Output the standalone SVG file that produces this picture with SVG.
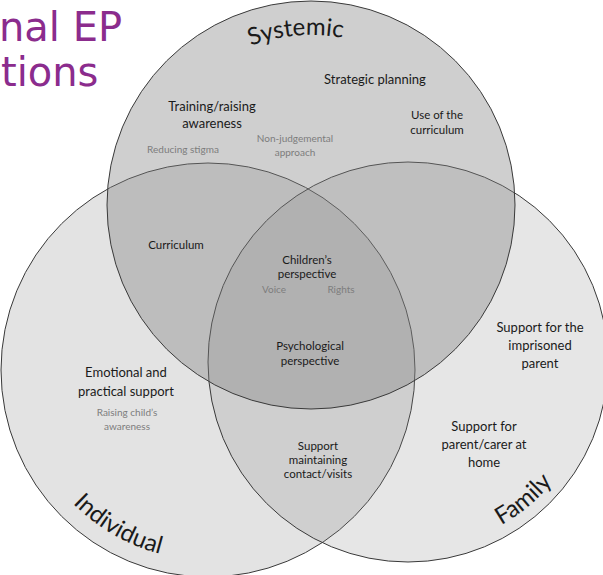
<svg xmlns="http://www.w3.org/2000/svg" width="603" height="575" viewBox="0 0 603 575">
<style>
.c{fill:#808080;stroke:#3a3a3a;stroke-width:1}
.t{font-family:Lato,"Open Sans","Liberation Sans",sans-serif;fill:#1a1a1a;text-anchor:middle}
.m{font-size:13px}
.s{font-size:11.5px}
.g{font-family:Lato,"Open Sans","Liberation Sans",sans-serif;fill:#7d7d7d;text-anchor:middle;font-size:10px}
.big{font-family:Lato,"Open Sans","Liberation Sans",sans-serif;fill:#1a1a1a;font-size:24px}
.title{font-family:"DejaVu Sans",Verdana,sans-serif;fill:#8b2c8d;font-size:40px}
</style>
<defs>
<path id="pS" d="M156.9,133.2 A170,170 0 0 1 450.3,107.5"/>
<path id="pI" d="M18,370 A190,190 0 0 0 303,534.5"/>
<path id="pF" d="M314,524.8 A188,188 0 0 0 584.7,297.7"/>
</defs>
<rect width="603" height="575" fill="#fff"/>
<g id="title">
<text class="title" x="-1" y="41">nal EP</text>
<text class="title" x="1" y="86">tions</text>
</g>
<g id="individual-circle"><circle class="c" cx="208" cy="370" r="207" fill-opacity="0.22"/></g>
<g id="family-circle"><circle class="c" cx="408" cy="362" r="200" fill-opacity="0.2"/></g>
<g id="systemic-circle"><circle class="c" cx="311" cy="205" r="204" fill-opacity="0.38"/></g>
<g id="systemic-label"><text class="big"><textPath href="#pS" startOffset="50%" text-anchor="middle">Systemic</textPath></text></g>
<g id="individual-label"><text class="big"><textPath href="#pI" startOffset="50%" text-anchor="middle">Individual</textPath></text></g>
<g id="family-label"><text class="big"><textPath href="#pF" startOffset="50%" text-anchor="middle">Family</textPath></text></g>
<g id="training">
<text class="t m" x="212" y="111">Training/raising</text>
<text class="t m" x="212" y="128">awareness</text>
</g>
<g id="reducing-stigma"><text class="g" x="183" y="153">Reducing stigma</text></g>
<g id="non-judgemental">
<text class="g" x="295" y="142">Non-judgemental</text>
<text class="g" x="295" y="156">approach</text>
</g>
<g id="strategic"><text class="t m" x="375" y="84">Strategic planning</text></g>
<g id="use-curriculum">
<text class="t s" x="437" y="119">Use of the</text>
<text class="t s" x="437" y="134">curriculum</text>
</g>
<g id="curriculum"><text class="t s" x="176" y="249">Curriculum</text></g>
<g id="childrens">
<text class="t s" x="307" y="264">Children’s</text>
<text class="t s" x="307" y="278">perspective</text>
</g>
<g id="voice"><text class="g" x="274" y="293">Voice</text></g>
<g id="rights"><text class="g" x="341" y="293">Rights</text></g>
<g id="psychological">
<text class="t s" x="310" y="350">Psychological</text>
<text class="t s" x="310" y="365">perspective</text>
</g>
<g id="emotional">
<text class="t m" x="126" y="377">Emotional and</text>
<text class="t m" x="126" y="396">practical support</text>
</g>
<g id="raising">
<text class="g" x="127" y="416">Raising child’s</text>
<text class="g" x="127" y="430">awareness</text>
</g>
<g id="imprisoned">
<text class="t m" x="540" y="332">Support for the</text>
<text class="t m" x="540" y="350">imprisoned</text>
<text class="t m" x="540" y="368">parent</text>
</g>
<g id="carer">
<text class="t m" x="484" y="431">Support for</text>
<text class="t m" x="484" y="449">parent/carer at</text>
<text class="t m" x="484" y="467">home</text>
</g>
<g id="contact">
<text class="t s" x="318" y="450">Support</text>
<text class="t s" x="318" y="464">maintaining</text>
<text class="t s" x="318" y="478">contact/visits</text>
</g>
</svg>
